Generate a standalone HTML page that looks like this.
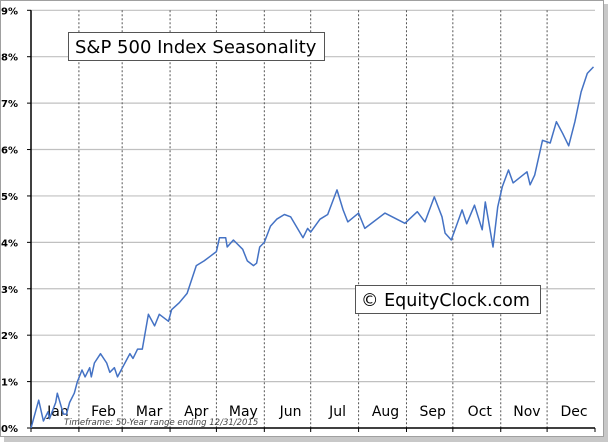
<!DOCTYPE html>
<html><head><meta charset="utf-8"><style>
html,body{margin:0;padding:0;background:#fff;}
svg{display:block;font-family:"DejaVu Sans","Liberation Sans",sans-serif;}
</style></head><body>
<svg id="chart" width="609" height="443" viewBox="0 0 609 443">
  <rect x="4" y="4" width="604" height="438" fill="#c8c8c8"/>
  <rect x="0.5" y="0.5" width="603" height="436" fill="#fff" stroke="#a0a0a0"/>
  <g id="grid"></g>
  <g id="axes"></g>
  <path id="line" fill="none" stroke="#4472c4" stroke-width="1.5" stroke-linejoin="round"/>
  <g>
    <rect x="68.5" y="32.5" width="256" height="28" fill="#fff" stroke="#555"/>
    <text x="75" y="53" font-size="18" fill="#000">S&amp;P 500 Index Seasonality</text>
  </g>
  <g>
    <rect x="355.5" y="285.5" width="185" height="28" fill="#fff" stroke="#555"/>
    <text x="361" y="306" font-size="17.5" fill="#000">© EquityClock.com</text>
  </g>
  <text x="64" y="425" font-size="8.5" font-style="italic" fill="#444">Timeframe: 50-Year range ending 12/31/2015</text>
</svg>
<script>
const days=[0,5,8,11,12,16,17,21,23,25,28,30,33,35,38,39,41,45,49,51,54,56,60,64,66,69,72,76,80,83,89,91,96,101,107,112,116,120,122,126,127,131,137,140,144,146,148,151,155,159,164,168,176,179,181,187,192,198,202,205,212,216,229,242,250,255,261,266,268,272,279,282,287,292,294,299,302,305,309,312,321,323,326,331,336,340,344,348,352,356,360,364];
const values=[0,0.6,0.15,0.35,0.2,0.55,0.75,0.3,0.3,0.55,0.75,1.0,1.25,1.1,1.3,1.1,1.4,1.6,1.4,1.2,1.3,1.1,1.35,1.6,1.5,1.7,1.7,2.45,2.2,2.45,2.3,2.55,2.7,2.9,3.5,3.6,3.7,3.8,4.1,4.1,3.9,4.05,3.85,3.6,3.5,3.55,3.9,4.0,4.35,4.5,4.6,4.55,4.1,4.3,4.22,4.5,4.6,5.13,4.7,4.44,4.63,4.3,4.63,4.41,4.66,4.44,4.98,4.55,4.2,4.05,4.7,4.4,4.8,4.27,4.87,3.9,4.76,5.2,5.56,5.28,5.52,5.24,5.45,6.2,6.14,6.6,6.35,6.08,6.6,7.24,7.64,7.78];
const months=["Jan","Feb","Mar","Apr","May","Jun","Jul","Aug","Sep","Oct","Nov","Dec"];
const monthStarts=[0,31,59,90,120,151,181,212,243,273,304,334,365];
const yTicks=[0,1,2,3,4,5,6,7,8,9];
const X0=31,X1=595,Y0=428,Y9=10.3;
const xs=d=>X0+d/365*(X1-X0);
const ys=v=>Y0-v/9*(Y0-Y9);
const NS="http://www.w3.org/2000/svg";
const grid=document.getElementById('grid'),axes=document.getElementById('axes');
function mk(tag,attrs,parent){const e=document.createElementNS(NS,tag);for(const k in attrs)e.setAttribute(k,attrs[k]);parent.appendChild(e);return e;}
yTicks.forEach(t=>{
  const y=ys(t);
  if(t>0){const l=mk('line',{x1:X0,x2:X1,y1:y,y2:y,stroke:'#c0c0c0','stroke-width':1.2},grid);
  
  }
  const tk=mk('line',{x1:X0-4,x2:X0,y1:y,y2:y,stroke:'#000'},axes);
  
  
  const tx=mk('text',{x:1,y:y+4,'font-size':10,'font-weight':'bold',fill:'#000'},axes);
  tx.textContent=t+'%';
  
  
});
monthStarts.forEach((d,i)=>{
  const x=xs(d);
  if(i>0&&i<12){const l=mk('line',{x1:x,x2:x,y1:Y9,y2:Y0,stroke:'#555','stroke-dasharray':'2,2'},grid);
  
  }
  const tk=mk('line',{x1:x,x2:x,y1:Y0,y2:Y0+4,stroke:'#000'},axes);
  
  
  if(i<12){const tx=mk('text',{x:(xs(d)+xs(monthStarts[i+1]))/2+3,y:416,'font-size':14,'text-anchor':'middle',fill:'#000'},axes);
  tx.textContent=months[i];
  
  }
});
const ya=mk('line',{x1:X0,x2:X0,y1:Y9,y2:Y0,stroke:'#000','stroke-width':1.5},axes);


const xa=mk('line',{x1:X0,x2:X1,y1:Y0,y2:Y0,stroke:'#000','stroke-width':1.5},axes);


document.getElementById('line').setAttribute('d',days.map((d,i)=>(i?'L':'M')+xs(d).toFixed(1)+','+ys(values[i]).toFixed(1)).join(''));
</script>
</body></html>
